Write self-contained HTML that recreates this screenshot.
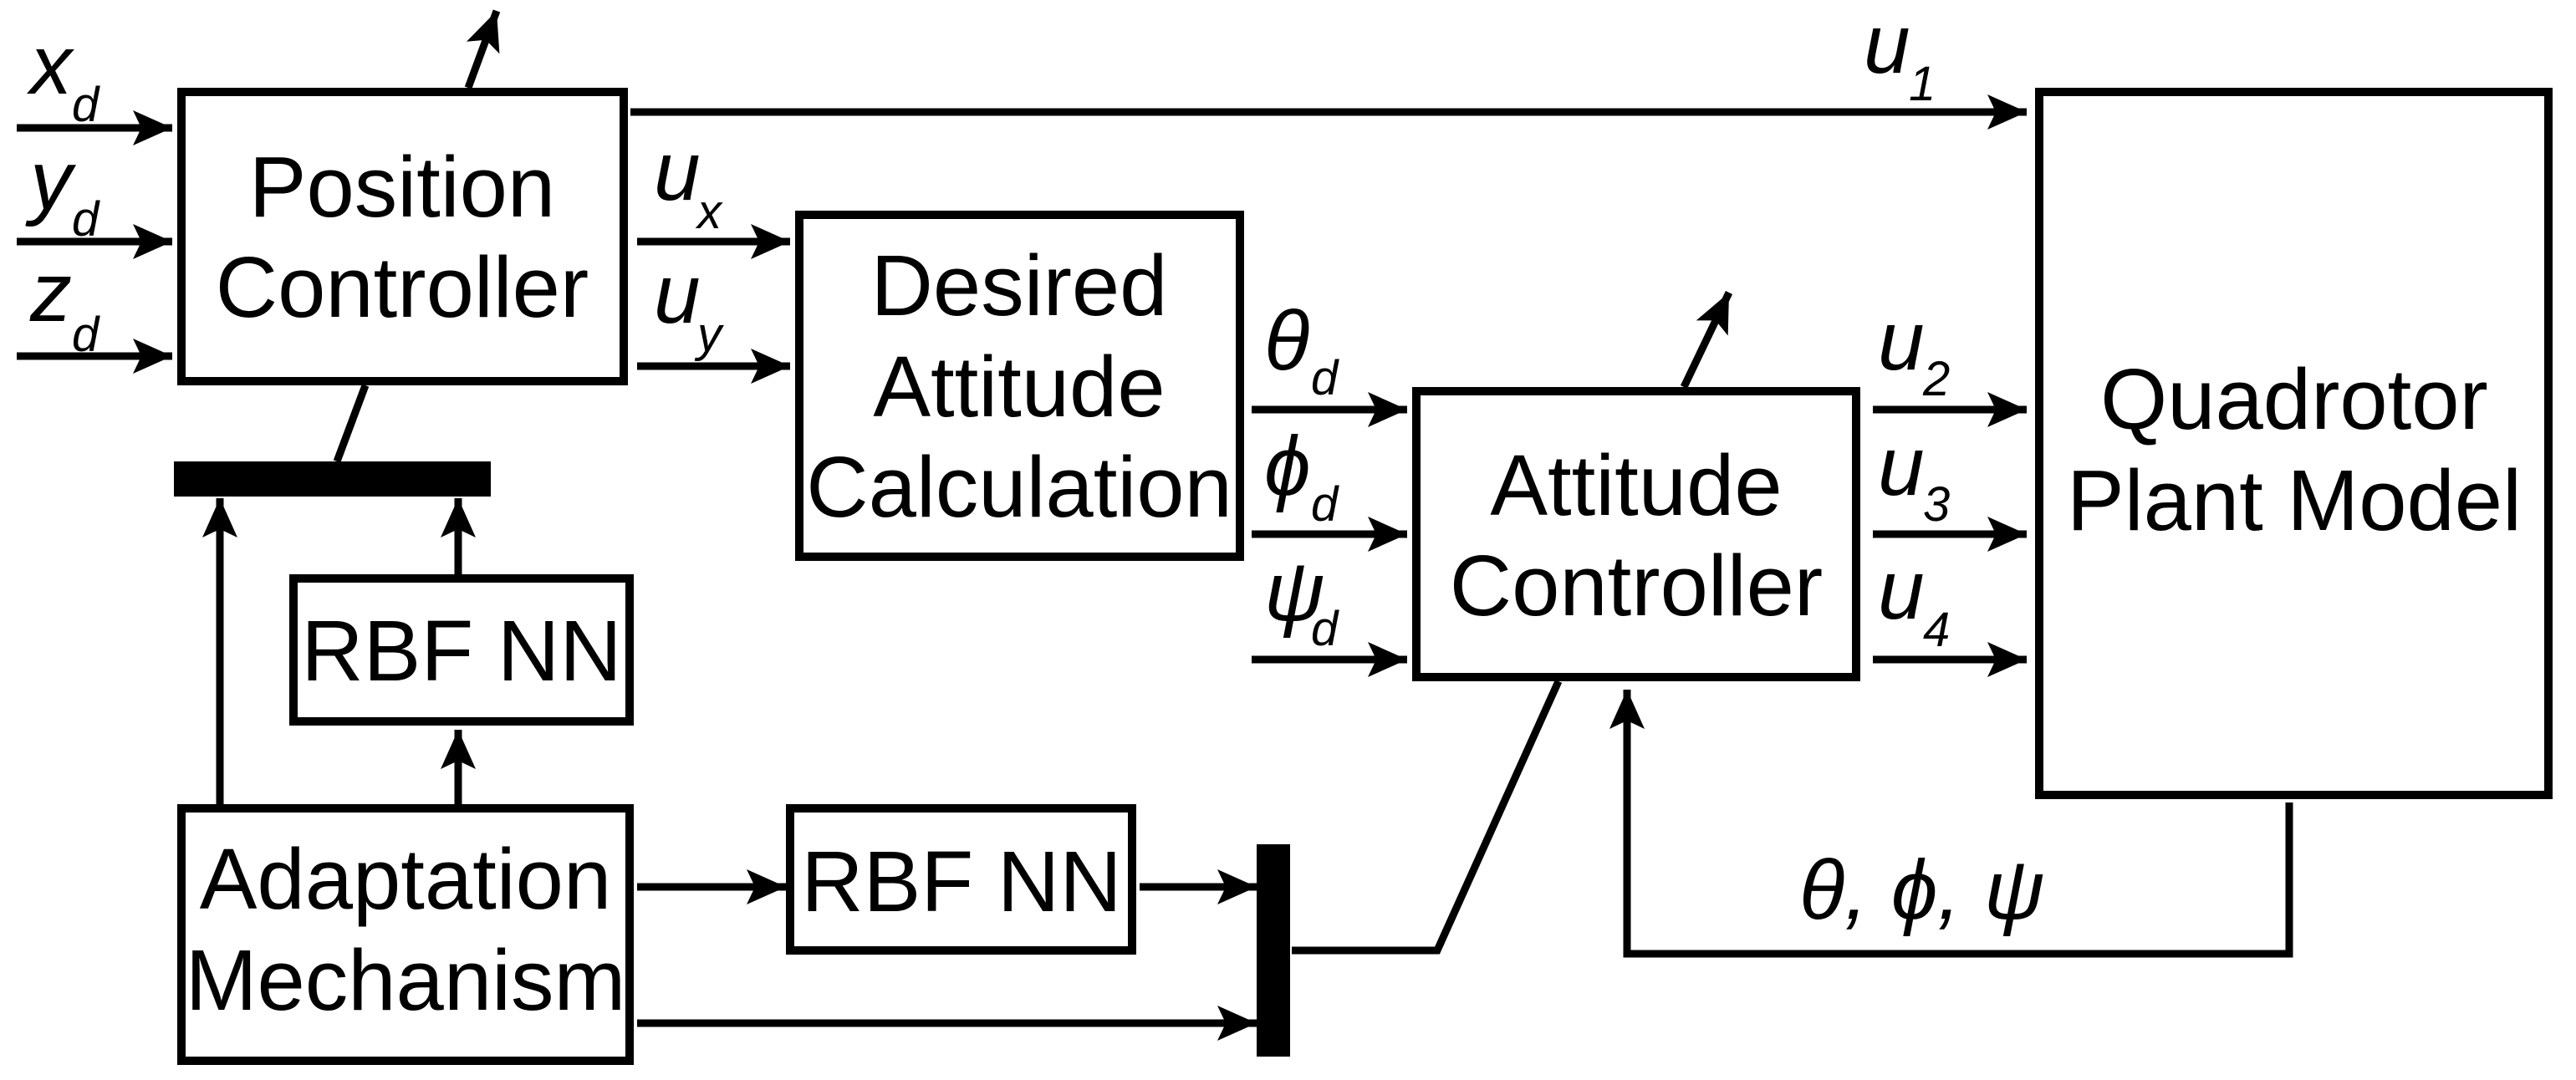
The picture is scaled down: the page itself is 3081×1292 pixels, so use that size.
<!DOCTYPE html>
<html><head><meta charset="utf-8"><style>
html,body{margin:0;padding:0;background:#fff}
svg{display:block}
text{font-family:"Liberation Sans",sans-serif;fill:#000}
.b{font-size:103px;text-anchor:middle}
.i{font-size:100px;font-style:italic}
.s{font-size:58px;font-style:italic}
</style></head><body>
<svg width="3081" height="1292" viewBox="0 0 3081 1292" xmlns="http://www.w3.org/2000/svg">
<defs>
<marker id="a" viewBox="0 -21 47 42" refX="47" refY="0" markerWidth="47" markerHeight="42" markerUnits="userSpaceOnUse" orient="auto">
<path d="M0,-21 L47,0 L0,21 L10,0 Z" fill="#000"/>
</marker>
</defs>
<g fill="none" stroke="#000" stroke-width="10">
<!-- boxes -->
<rect x="217" y="110" width="529" height="346"/>
<rect x="956" y="257" width="527" height="409"/>
<rect x="1694" y="468" width="526" height="342"/>
<rect x="2439" y="110" width="609" height="841"/>
<rect x="351" y="692" width="402" height="171"/>
<rect x="217" y="967" width="536" height="302"/>
<rect x="945" y="967" width="409" height="170"/>
</g>
<g stroke="#000" stroke-width="9" fill="none" marker-end="url(#a)">
<line x1="20" y1="153" x2="206" y2="153"/>
<line x1="20" y1="289" x2="206" y2="289"/>
<line x1="20" y1="426" x2="206" y2="426"/>
<line x1="560" y1="105" x2="594" y2="13"/>
<line x1="754" y1="134" x2="2424" y2="134"/>
<line x1="762" y1="289" x2="945" y2="289"/>
<line x1="762" y1="438" x2="945" y2="438"/>
<line x1="1497" y1="490" x2="1683" y2="490"/>
<line x1="1497" y1="639" x2="1683" y2="639"/>
<line x1="1497" y1="789" x2="1683" y2="789"/>
<line x1="2240" y1="490" x2="2424" y2="490"/>
<line x1="2240" y1="639" x2="2424" y2="639"/>
<line x1="2240" y1="789" x2="2424" y2="789"/>
<line x1="2014" y1="463" x2="2068" y2="350"/>
<line x1="263" y1="962" x2="263" y2="596"/>
<line x1="548" y1="687" x2="548" y2="596"/>
<line x1="548" y1="962" x2="548" y2="873"/>
<line x1="762" y1="1061" x2="940" y2="1061"/>
<line x1="1363" y1="1061" x2="1503" y2="1061"/>
<line x1="762" y1="1224" x2="1503" y2="1224"/>
<polyline points="2738,960 2738,1141 1946,1141 1946,825"/>
</g>
<g stroke="#000" stroke-width="9" fill="none">
<line x1="403" y1="552" x2="437" y2="461"/>
<polyline points="1545,1137 1719,1137 1864,815"/>
</g>
<rect x="208" y="552" width="379" height="42" fill="#000"/>
<rect x="1503" y="1010" width="40" height="254" fill="#000"/>
<!-- box text -->
<text class="b" x="481" y="259">Position</text>
<text class="b" x="481" y="379">Controller</text>
<text class="b" x="1219" y="377">Desired</text>
<text class="b" x="1219" y="498">Attitude</text>
<text class="b" x="1219" y="618">Calculation</text>
<text class="b" x="1957" y="616">Attitude</text>
<text class="b" x="1957" y="736">Controller</text>
<text class="b" x="2744" y="513">Quadrotor</text>
<text class="b" x="2744" y="634">Plant Model</text>
<text class="b" x="552" y="814">RBF NN</text>
<text class="b" x="1150" y="1090">RBF NN</text>
<text class="b" x="485" y="1087">Adaptation</text>
<text class="b" x="485" y="1208">Mechanism</text>
<!-- labels -->
<text class="i" x="36" y="112">x</text><text class="s" x="86" y="145">d</text>
<text class="i" x="36" y="250">y</text><text class="s" x="86" y="282">d</text>
<text class="i" x="36" y="384">z</text><text class="s" x="86" y="420">d</text>
<text class="i" x="782" y="239">u</text><text class="s" x="834" y="273">x</text>
<text class="i" x="782" y="386">u</text><text class="s" x="834" y="420">y</text>
<text class="i" x="2229" y="87">u</text><text class="s" x="2283" y="120">1</text>
<text class="i" x="2246" y="442">u</text><text class="s" x="2300" y="473">2</text>
<text class="i" x="2246" y="592">u</text><text class="s" x="2300" y="623">3</text>
<text class="i" x="2246" y="740">u</text><text class="s" x="2300" y="773">4</text>
<text class="i" x="1512" y="442">θ</text><text class="s" x="1568" y="472">d</text>
<text class="i" x="1512" y="592">ϕ</text><text class="s" x="1568" y="623">d</text>
<text class="i" x="1512" y="742">ψ</text><text class="s" x="1568" y="772">d</text>
<text class="i" x="2152" y="1099">θ, ϕ, ψ</text>
</svg>
</body></html>
